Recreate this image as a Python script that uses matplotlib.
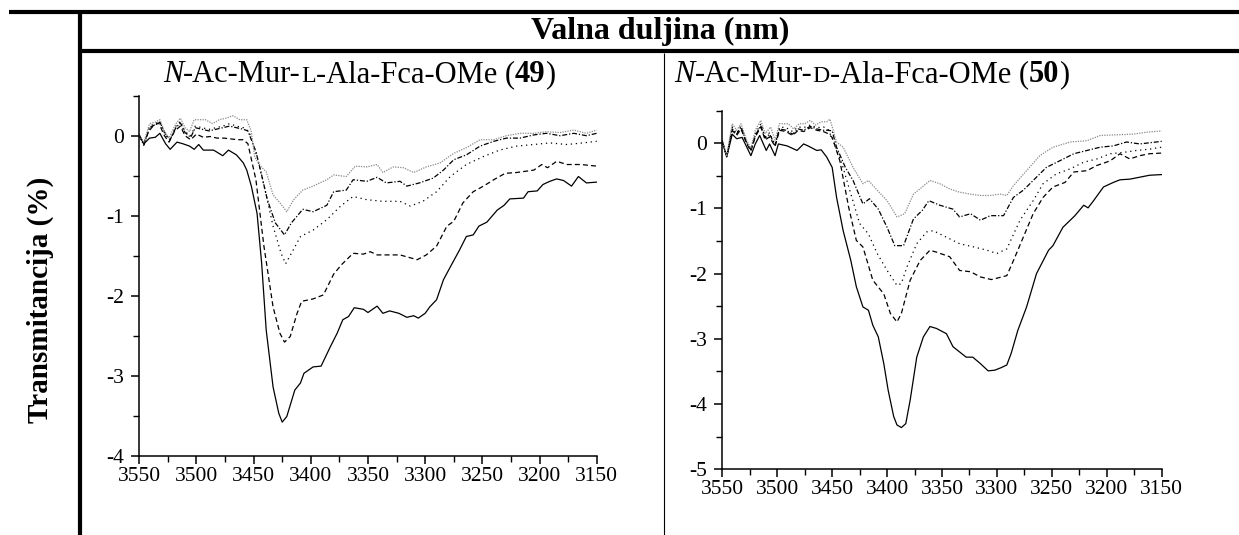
import matplotlib
matplotlib.use('Agg')
import matplotlib.pyplot as plt
from matplotlib.lines import Line2D
from matplotlib.ticker import MultipleLocator, FormatStrFormatter

plt.rcParams['font.family'] = 'Liberation Serif'
plt.rcParams['axes.unicode_minus'] = False

# ---------------- data: N-Ac-Mur-L-Ala-Fca-OMe (49) ----------------
l_solid_x = [3550, 3546, 3541, 3536, 3532, 3527, 3523, 3517, 3512, 3506, 3502, 3498, 3494, 3485,
             3477, 3472, 3465, 3459, 3456, 3452, 3447, 3443, 3439, 3433, 3428, 3425, 3421, 3414,
             3409, 3406, 3398, 3391, 3383, 3377, 3372, 3367, 3362, 3354, 3350, 3342, 3337, 3331,
             3323, 3316, 3310, 3306, 3300, 3296, 3290, 3284, 3278, 3270, 3264, 3258, 3253, 3246,
             3237, 3231, 3226, 3214, 3210, 3202, 3197, 3191, 3185, 3179, 3172, 3166, 3159, 3150]
l_solid_y = [0.01, -0.1, -0.03, -0.02, 0.03, -0.1, -0.17, -0.08, -0.1, -0.13, -0.17, -0.11, -0.18, -0.18,
             -0.25, -0.18, -0.24, -0.34, -0.43, -0.63, -0.97, -1.59, -2.43, -3.14, -3.47, -3.58, -3.51, -3.18,
             -3.09, -2.97, -2.89, -2.88, -2.64, -2.47, -2.30, -2.26, -2.15, -2.17, -2.21, -2.13, -2.22, -2.19,
             -2.22, -2.27, -2.25, -2.28, -2.22, -2.14, -2.05, -1.80, -1.64, -1.43, -1.26, -1.24, -1.13, -1.08,
             -0.93, -0.87, -0.79, -0.78, -0.70, -0.69, -0.61, -0.57, -0.54, -0.56, -0.63, -0.51, -0.59, -0.58]

l_dash_x = [3550, 3546, 3542, 3538, 3533, 3528, 3524, 3519, 3514, 3510, 3505, 3500, 3494, 3488,
            3482, 3476, 3470, 3464, 3459, 3455, 3448, 3441, 3433, 3427, 3423, 3418, 3412, 3408,
            3398, 3389, 3380, 3373, 3363, 3354, 3348, 3342, 3334, 3322, 3307, 3299, 3290, 3281,
            3275, 3267, 3258, 3249, 3240, 3230, 3220, 3205, 3198, 3193, 3185, 3176, 3164, 3150]
l_dash_y = [0.0, -0.1, 0.05, 0.12, 0.16, 0.0, -0.08, 0.06, 0.12, 0.0, -0.05, 0.02, -0.02, -0.01,
            -0.03, -0.03, -0.04, -0.05, -0.05, -0.1, -0.55, -1.38, -2.14, -2.47, -2.58, -2.51, -2.22, -2.07,
            -2.04, -1.99, -1.73, -1.61, -1.47, -1.48, -1.45, -1.49, -1.49, -1.49, -1.55, -1.49, -1.38, -1.13,
            -1.07, -0.84, -0.70, -0.63, -0.55, -0.47, -0.46, -0.43, -0.36, -0.40, -0.32, -0.36, -0.36, -0.38]

l_dot_x = [3550, 3546, 3541, 3536, 3532, 3527, 3523, 3518, 3514, 3510, 3505, 3501, 3495, 3489,
           3483, 3477, 3471, 3465, 3459, 3454, 3447, 3440, 3433, 3426, 3422, 3417, 3409, 3398,
           3386, 3374, 3363, 3351, 3337, 3322, 3313, 3302, 3290, 3278, 3264, 3249, 3235, 3220,
           3205, 3191, 3176, 3162, 3150]
l_dot_y = [0.0, -0.1, 0.12, 0.15, 0.18, 0.0, -0.05, 0.12, 0.18, 0.05, 0.0, 0.12, 0.1, 0.08,
           0.1, 0.12, 0.15, 0.12, 0.1, 0.05, -0.26, -0.68, -1.13, -1.47, -1.60, -1.47, -1.26, -1.18,
           -1.05, -0.88, -0.76, -0.80, -0.82, -0.82, -0.88, -0.82, -0.70, -0.51, -0.36, -0.26, -0.18, -0.13,
           -0.11, -0.09, -0.11, -0.09, -0.07]

l_dd_x = [3550, 3546, 3541, 3536, 3532, 3527, 3523, 3518, 3514, 3510, 3505, 3501, 3495, 3489,
          3483, 3477, 3471, 3465, 3459, 3455, 3448, 3444, 3438, 3431, 3423, 3417, 3407, 3398,
          3386, 3380, 3369, 3363, 3351, 3342, 3334, 3322, 3316, 3305, 3293, 3284, 3275, 3264,
          3252, 3240, 3229, 3217, 3205, 3194, 3182, 3170, 3159, 3150]
l_dd_y = [0.0, -0.12, 0.1, 0.14, 0.17, 0.02, -0.05, 0.1, 0.16, 0.04, -0.02, 0.1, 0.08, 0.06,
          0.08, 0.1, 0.12, 0.1, 0.08, 0.06, -0.2, -0.43, -0.8, -1.09, -1.24, -1.09, -0.92, -0.95,
          -0.87, -0.70, -0.68, -0.55, -0.57, -0.52, -0.59, -0.57, -0.63, -0.59, -0.53, -0.43, -0.30, -0.24,
          -0.13, -0.07, -0.03, -0.03, 0.01, 0.03, 0.0, 0.03, 0.0, 0.03]

l_grey_x = [3550, 3546, 3541, 3536, 3532, 3528, 3524, 3518, 3514, 3510, 3506, 3502, 3497, 3492,
            3486, 3480, 3474, 3468, 3462, 3456, 3452, 3449, 3444, 3439, 3433, 3427, 3421, 3415,
            3407, 3398, 3386, 3380, 3369, 3361, 3351, 3342, 3337, 3328, 3319, 3310, 3299, 3287,
            3275, 3264, 3252, 3240, 3229, 3217, 3205, 3194, 3182, 3170, 3159, 3150]
l_grey_y = [0.0, -0.08, 0.15, 0.17, 0.2, 0.05, -0.03, 0.15, 0.22, 0.1, 0.05, 0.2, 0.2, 0.2,
            0.15, 0.2, 0.22, 0.25, 0.2, 0.2, 0.05, -0.27, -0.38, -0.45, -0.74, -0.84, -0.95, -0.80,
            -0.68, -0.63, -0.55, -0.49, -0.51, -0.38, -0.39, -0.36, -0.46, -0.39, -0.40, -0.46, -0.39, -0.34,
            -0.22, -0.15, -0.05, -0.05, 0.0, 0.03, 0.03, 0.05, 0.04, 0.07, 0.03, 0.07]

# ---------------- data: N-Ac-Mur-D-Ala-Fca-OMe (50) ----------------
r_solid_x = [3550, 3546, 3541, 3537, 3532, 3524, 3520, 3516, 3510, 3507, 3502, 3499, 3491, 3482,
             3476, 3472, 3464, 3460, 3455, 3450, 3446, 3440, 3433, 3428, 3422, 3417, 3413, 3408,
             3403, 3399, 3394, 3391, 3387, 3383, 3379, 3373, 3367, 3361, 3355, 3346, 3340, 3334,
             3328, 3322, 3315, 3308, 3302, 3296, 3291, 3287, 3281, 3273, 3264, 3253, 3249, 3240,
             3229, 3221, 3217, 3212, 3203, 3194, 3188, 3179, 3170, 3161, 3150]
r_solid_y = [0.02, -0.21, 0.14, 0.07, 0.09, -0.19, -0.01, 0.12, -0.11, -0.01, -0.19, -0.01, -0.04, -0.11,
             -0.01, -0.04, -0.11, -0.10, -0.21, -0.37, -0.83, -1.34, -1.80, -2.20, -2.51, -2.56, -2.79, -2.97,
             -3.38, -3.79, -4.19, -4.32, -4.36, -4.30, -3.94, -3.28, -2.97, -2.81, -2.84, -2.92, -3.12, -3.20,
             -3.28, -3.28, -3.38, -3.49, -3.48, -3.44, -3.40, -3.22, -2.87, -2.51, -2.00, -1.64, -1.57, -1.29,
             -1.11, -0.95, -0.99, -0.88, -0.67, -0.60, -0.56, -0.55, -0.52, -0.49, -0.48]

r_dash_x = [3550, 3546, 3541, 3537, 3533, 3528, 3524, 3520, 3515, 3511, 3507, 3502, 3498, 3492,
            3486, 3481, 3476, 3470, 3464, 3458, 3454, 3450, 3443, 3435, 3428, 3422, 3413, 3403,
            3397, 3391, 3387, 3379, 3370, 3361, 3355, 3343, 3334, 3324, 3315, 3305, 3291, 3285,
            3276, 3267, 3258, 3249, 3238, 3230, 3218, 3209, 3197, 3188, 3179, 3170, 3161, 3150]
r_dash_y = [0.02, -0.2, 0.2, 0.12, 0.22, 0.0, -0.12, 0.1, 0.25, 0.05, 0.1, -0.05, 0.2, 0.18,
            0.12, 0.2, 0.18, 0.24, 0.2, 0.18, 0.15, 0.09, -0.27, -0.98, -1.49, -1.59, -2.10, -2.31,
            -2.61, -2.74, -2.61, -2.10, -1.80, -1.64, -1.67, -1.74, -1.95, -1.97, -2.05, -2.09, -2.03, -1.80,
            -1.44, -1.08, -0.83, -0.67, -0.60, -0.44, -0.42, -0.34, -0.27, -0.16, -0.24, -0.19, -0.16, -0.15]

r_dot_x = [3550, 3546, 3541, 3537, 3533, 3528, 3524, 3520, 3515, 3511, 3507, 3502, 3498, 3492,
           3486, 3481, 3476, 3470, 3464, 3458, 3454, 3449, 3441, 3434, 3425, 3417, 3409, 3400,
           3391, 3387, 3382, 3373, 3364, 3358, 3346, 3334, 3321, 3309, 3300, 3291, 3279, 3267,
           3258, 3246, 3233, 3221, 3209, 3197, 3185, 3173, 3161, 3150]
r_dot_y = [0.03, -0.2, 0.25, 0.15, 0.27, 0.02, -0.1, 0.14, 0.3, 0.1, 0.16, -0.02, 0.25, 0.24,
           0.18, 0.25, 0.24, 0.28, 0.24, 0.25, 0.22, 0.04, -0.32, -0.72, -1.23, -1.39, -1.69, -1.95,
           -2.18, -2.15, -1.90, -1.54, -1.36, -1.34, -1.44, -1.54, -1.59, -1.64, -1.69, -1.62, -1.18, -0.88,
           -0.62, -0.47, -0.39, -0.29, -0.24, -0.16, -0.14, -0.11, -0.09, -0.06]

r_dd_x = [3550, 3546, 3541, 3537, 3533, 3528, 3524, 3520, 3515, 3511, 3507, 3502, 3498, 3492,
          3486, 3481, 3476, 3470, 3464, 3458, 3454, 3450, 3446, 3438, 3431, 3422, 3416, 3408,
          3400, 3393, 3385, 3376, 3368, 3362, 3352, 3340, 3334, 3324, 3315, 3306, 3294, 3285,
          3276, 3264, 3255, 3243, 3230, 3218, 3206, 3194, 3182, 3170, 3150]
r_dd_y = [0.03, -0.2, 0.22, 0.14, 0.25, 0.02, -0.1, 0.12, 0.27, 0.08, 0.14, -0.03, 0.22, 0.2,
          0.14, 0.22, 0.2, 0.26, 0.22, 0.2, 0.2, 0.19, -0.06, -0.37, -0.57, -0.93, -0.85, -1.01,
          -1.29, -1.57, -1.57, -1.16, -1.03, -0.88, -0.95, -1.01, -1.13, -1.08, -1.18, -1.11, -1.11, -0.83,
          -0.72, -0.52, -0.37, -0.27, -0.16, -0.11, -0.06, -0.04, 0.02, -0.01, 0.03]

r_grey_x = [3550, 3546, 3541, 3537, 3533, 3528, 3524, 3520, 3515, 3511, 3506, 3502, 3498, 3490,
            3485, 3480, 3475, 3470, 3465, 3460, 3455, 3452, 3446, 3440, 3431, 3422, 3417, 3409,
            3400, 3391, 3384, 3376, 3368, 3361, 3352, 3343, 3334, 3324, 3315, 3306, 3297, 3291,
            3285, 3273, 3261, 3249, 3233, 3218, 3206, 3191, 3176, 3164, 3150]
r_grey_y = [0.05, -0.2, 0.3, 0.2, 0.3, 0.05, -0.08, 0.2, 0.35, 0.15, 0.25, 0.05, 0.3, 0.3,
            0.22, 0.3, 0.3, 0.35, 0.28, 0.33, 0.33, 0.37, 0.02, -0.06, -0.37, -0.62, -0.57, -0.72,
            -0.88, -1.13, -1.08, -0.78, -0.67, -0.57, -0.62, -0.70, -0.75, -0.78, -0.80, -0.80, -0.78, -0.80,
            -0.65, -0.42, -0.19, -0.06, 0.02, 0.04, 0.12, 0.13, 0.14, 0.17, 0.19]

x_ticks = [3550, 3500, 3450, 3400, 3350, 3300, 3250, 3200, 3150]

# line styles for the five traces (bottom to top)
styles = [
    dict(color='black', lw=0.9, ls='-'),
    dict(color='black', lw=0.9, ls=(0, (4, 2.5))),
    dict(color='black', lw=0.9, ls=(0, (1, 3))),
    dict(color='black', lw=0.9, ls=(0, (4, 1.5, 1, 1.5))),
    dict(color='#8a8a8a', lw=0.9, ls=(0, (1, 1))),
]

fig = plt.figure(figsize=(12.39, 5.35), dpi=100)


def style_axes(ax, ymin):
    ax.set_xlim(3550, 3150)
    ax.set_ylim(ymin, 0.5)
    ax.set_xticks(x_ticks)
    ax.xaxis.set_minor_locator(MultipleLocator(25))
    ax.yaxis.set_major_locator(MultipleLocator(1))
    ax.yaxis.set_minor_locator(MultipleLocator(0.5))
    ax.yaxis.set_major_formatter(FormatStrFormatter('%d'))
    for s in ['top', 'right']:
        ax.spines[s].set_visible(False)
    for s in ['left', 'bottom']:
        ax.spines[s].set_linewidth(1.1)
    ax.tick_params(which='major', direction='out', length=6, width=1.1, labelsize=15.5)
    ax.tick_params(axis='x', which='major', pad=2)
    ax.tick_params(axis='y', which='major', pad=5)
    ax.tick_params(which='minor', direction='out', length=4, width=1.0)
    ax.set_facecolor('none')


ax1 = fig.add_axes([0.1124, 0.1482, 0.3692, 0.6729])
curves_l = [(l_solid_x, l_solid_y), (l_dash_x, l_dash_y), (l_dot_x, l_dot_y),
            (l_dd_x, l_dd_y), (l_grey_x, l_grey_y)]
for (xs, ys), st in zip(curves_l, styles):
    ax1.plot(xs, ys, **st)
style_axes(ax1, -4)

ax2 = fig.add_axes([0.583, 0.1228, 0.3546, 0.6703])
curves_r = [(r_solid_x, r_solid_y), (r_dash_x, r_dash_y), (r_dot_x, r_dot_y),
            (r_dd_x, r_dd_y), (r_grey_x, r_grey_y)]
for (xs, ys), st in zip(curves_r, styles):
    ax2.plot(xs, ys, **st)
style_axes(ax2, -5)

# table frame lines (figure pixel coords)
W, H = 1239, 535


def hline(x0, x1, y, lw):
    fig.add_artist(Line2D([x0 / W, x1 / W], [1 - y / H, 1 - y / H], color='black', lw=lw,
                          transform=fig.transFigure, solid_capstyle='butt'))


def vline(x, y0, y1, lw):
    fig.add_artist(Line2D([x / W, x / W], [1 - y0 / H, 1 - y1 / H], color='black', lw=lw,
                          transform=fig.transFigure, solid_capstyle='butt'))


hline(9, W, 11.5, 3)
hline(80, W, 51, 3)
vline(80, 10, H, 3)
vline(664, 53, H, 0.8)

fig.text(660 / W, 1 - 31 / H, 'Valna duljina (nm)', ha='center', va='center',
         fontsize=23, fontweight='bold')
fig.text(40 / W, 1 - 300 / H, 'Transmitancija (%)', ha='center', va='center',
         rotation=90, fontsize=21, fontweight='bold')


def rich_title(xc, yc, pieces, size=22):
    # draw text pieces side by side, centred on (xc, yc) in pixels
    fig.canvas.draw()
    r = fig.canvas.get_renderer()
    texts = []
    widths = []
    for s, kw in pieces:
        fs = size * kw.pop('scale', 1.0)
        t = fig.text(0, 1 - yc / H, s, fontsize=fs, va='baseline', ha='left', **kw)
        widths.append(t.get_window_extent(r).width)
        texts.append(t)
    x = xc - sum(widths) / 2
    for t, w in zip(texts, widths):
        t.set_x(x / W)
        x += w


def title_pieces(letter, num):
    return [('N', dict(style='italic')),
            ('-Ac-Mur-', {}),
            (letter, dict(scale=0.78)),
            ('-Ala-Fca-OMe (', {}),
            (num, dict(fontweight='bold')),
            (')', {})]


rich_title(359, 82, title_pieces('L', '49'))
rich_title(872, 82, title_pieces('D', '50'))

fig.savefig('out.png', dpi=100)
